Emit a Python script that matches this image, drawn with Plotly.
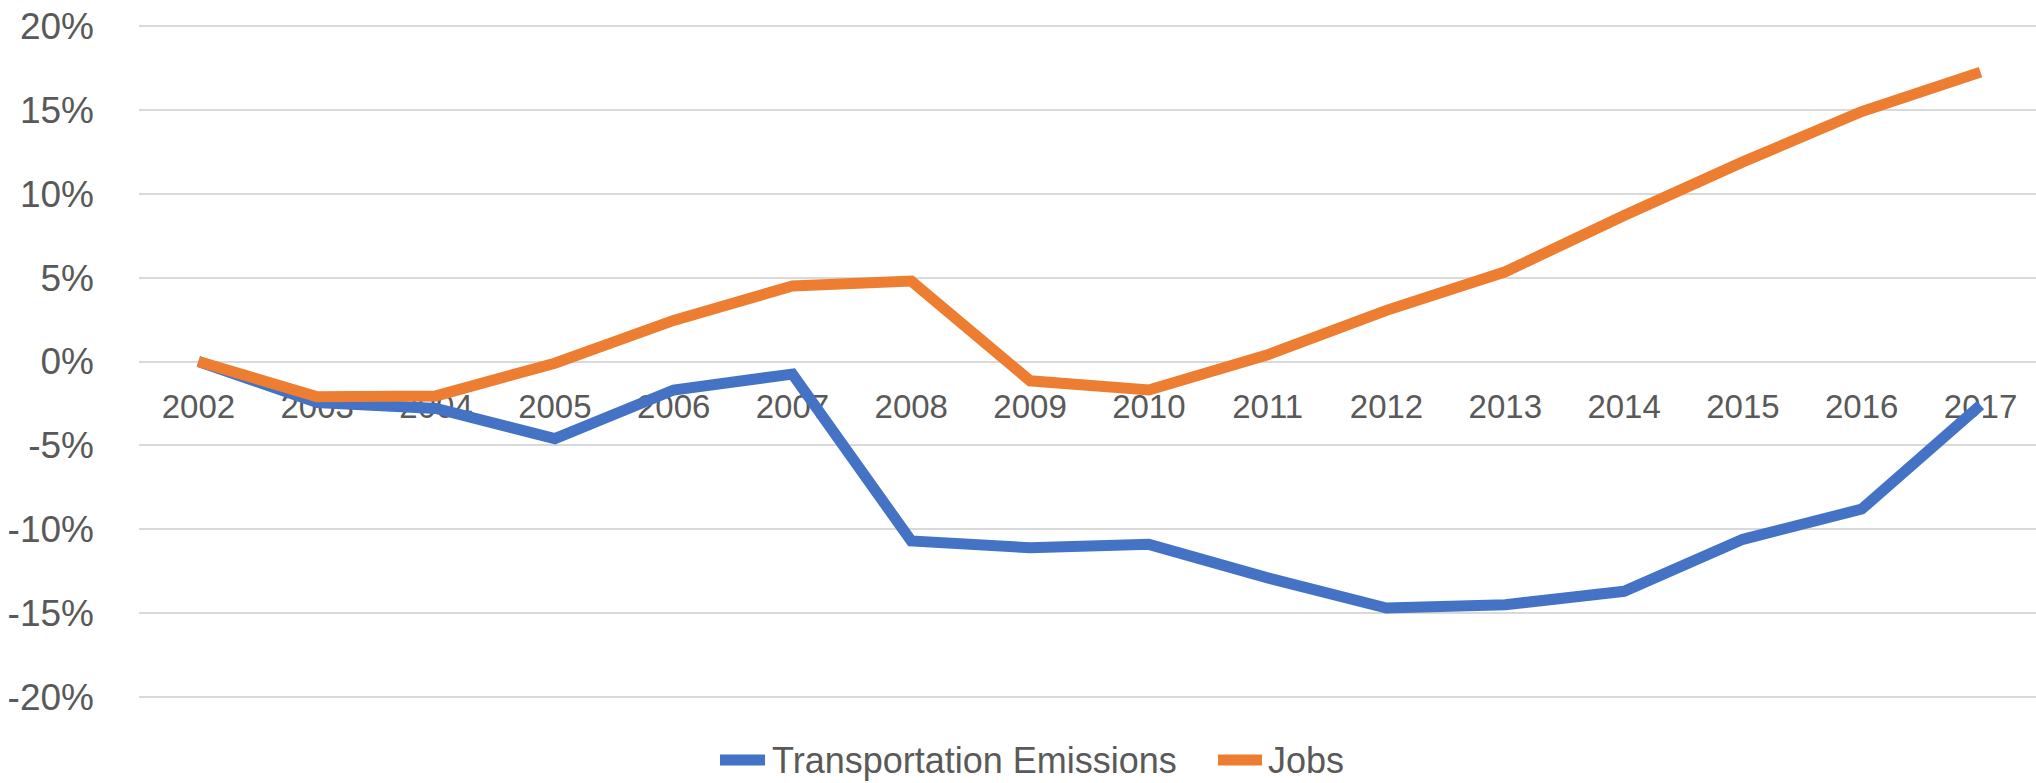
import plotly.graph_objects as go

years = list(range(2002, 2018))
emissions_pct = [0, -2.45, -2.8, -4.6, -1.7, -0.75, -10.7, -11.1, -10.9, -12.9, -14.7, -14.5, -13.7, -10.6, -8.8, -2.6]
jobs_pct = [0, -2.1, -2.05, -0.1, 2.45, 4.5, 4.8, -1.15, -1.7, 0.4, 3.05, 5.35, 8.7, 11.9, 14.9, 17.25]
y_ticks = [0.20, 0.15, 0.10, 0.05, 0, -0.05, -0.10, -0.15, -0.20]
y_labels = ["20%", "15%", "10%", "5%", "0%", "-5%", "-10%", "-15%", "-20%"]
series_names = ["Transportation Emissions", "Jobs"]

BLUE = "#4472C4"
ORANGE = "#ED7D31"
TEXT = "#595959"
GRID = "#D9D9D9"
FONT = "Liberation Sans, Arial, sans-serif"
LINE_W = 11

W, H = 2036, 783
ML, MR, MT, MB = 139, 0, 24, 84
PLOT_W, PLOT_H = W - ML - MR, H - MT - MB


def px_to_paper(px, py):
    return (px - ML) / PLOT_W, (H - MB - py) / PLOT_H


fig = go.Figure()
fig.add_trace(go.Scatter(
    x=years, y=[v / 100 for v in emissions_pct],
    mode="lines", name=series_names[0],
    line=dict(color=BLUE, width=LINE_W),
))
fig.add_trace(go.Scatter(
    x=years, y=[v / 100 for v in jobs_pct],
    mode="lines", name=series_names[1],
    line=dict(color=ORANGE, width=LINE_W),
))

# legend drawn by hand below the plot so it does not steal plot height
legend_y = 760
for name, color, x0, x1, tx in [
    (series_names[0], BLUE, 720, 765, 770),
    (series_names[1], ORANGE, 1218, 1262, 1266),
]:
    px0, py = px_to_paper(x0, legend_y)
    px1, _ = px_to_paper(x1, legend_y)
    ptx, _ = px_to_paper(tx, legend_y)
    fig.add_shape(type="line", xref="paper", yref="paper",
                  x0=px0, x1=px1, y0=py, y1=py,
                  line=dict(color=color, width=LINE_W))
    fig.add_annotation(xref="paper", yref="paper", x=ptx, y=py,
                       text=name, showarrow=False,
                       xanchor="left", yanchor="middle",
                       font=dict(size=36, color=TEXT, family=FONT))

fig.update_layout(
    width=W, height=H,
    margin=dict(l=ML, r=MR, t=MT, b=MB),
    paper_bgcolor="white", plot_bgcolor="white",
    font=dict(family=FONT, color=TEXT),
    showlegend=False,
    xaxis=dict(
        range=[2001.5, 2017.467],
        tickmode="array", tickvals=years, ticktext=[str(y) for y in years],
        anchor="free", position=0.5,
        showgrid=False, zeroline=False,
        showline=True, linecolor=GRID, linewidth=2,
        ticks="", ticklabelstandoff=16,
        tickfont=dict(size=33, color=TEXT),
        layer="below traces", automargin=False,
    ),
    yaxis=dict(
        range=[-0.2012, 0.2012],
        tickmode="array", tickvals=y_ticks, ticktext=y_labels,
        showgrid=True, gridcolor=GRID, gridwidth=2,
        zeroline=False, showline=False,
        ticks="", ticklabelstandoff=44,
        tickfont=dict(size=37, color=TEXT),
        layer="below traces", automargin=False,
    ),
)

# drop the default 8px page margin so the figure sits at the window corner
fig.write_html("out.html", config={"displayModeBar": False},
               post_script="document.body.style.margin='0';")
